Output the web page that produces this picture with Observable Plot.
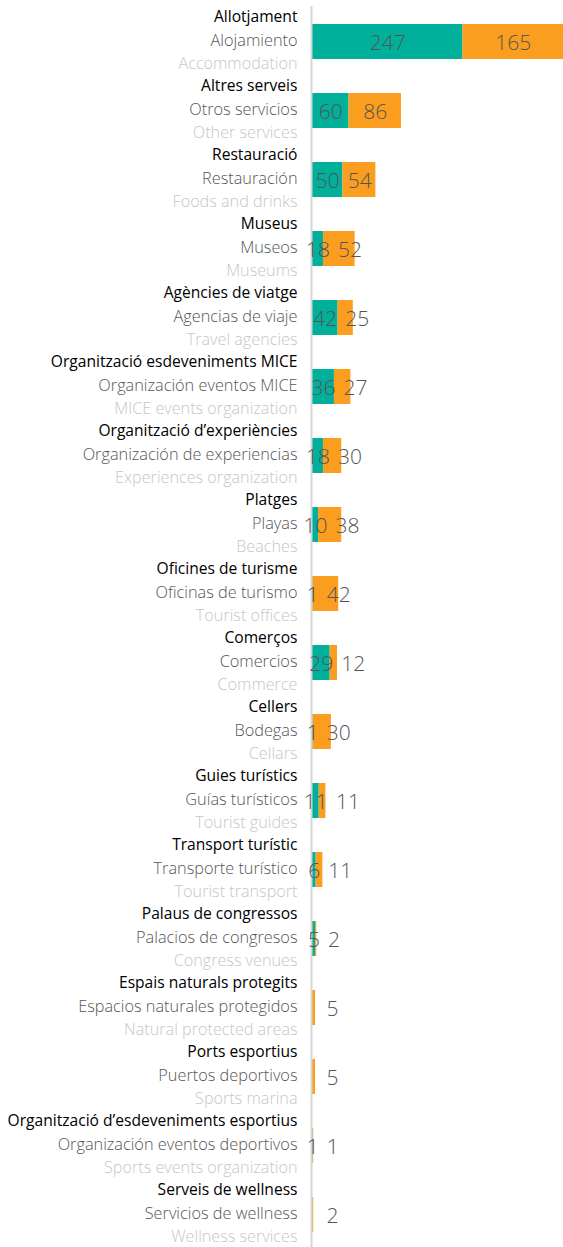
<!DOCTYPE html>
<html>
<head>
<meta charset="utf-8">
<script src="https://cdn.jsdelivr.net/npm/d3@7"></script>
<script src="https://cdn.jsdelivr.net/npm/@observablehq/plot@0.6"></script>
<style>
  html, body { margin: 0; padding: 0; background: #fff; }
  #chart svg { display: block; }
</style>
</head>
<body>
<div id="chart"></div>
<script>
const catalan = [
  "Allotjament", "Altres serveis", "Restauració", "Museus", "Agències de viatge",
  "Organització esdeveniments MICE", "Organització d’experiències", "Platges",
  "Oficines de turisme", "Comerços", "Cellers", "Guies turístics", "Transport turístic",
  "Palaus de congressos", "Espais naturals protegits", "Ports esportius",
  "Organització d’esdeveniments esportius", "Serveis de wellness"
];
const spanish = [
  "Alojamiento", "Otros servicios", "Restauración", "Museos", "Agencias de viaje",
  "Organización eventos MICE", "Organización de experiencias", "Playas",
  "Oficinas de turismo", "Comercios", "Bodegas", "Guías turísticos", "Transporte turístico",
  "Palacios de congresos", "Espacios naturales protegidos", "Puertos deportivos",
  "Organización eventos deportivos", "Servicios de wellness"
];
const english = [
  "Accommodation", "Other services", "Foods and drinks", "Museums", "Travel agencies",
  "MICE events organization", "Experiences organization", "Beaches",
  "Tourist offices", "Commerce", "Cellars", "Tourist guides", "Tourist transport",
  "Congress venues", "Natural protected areas", "Sports marina",
  "Sports events organization", "Wellness services"
];
const seriesNames = ["Series 1", "Series 2"];
const series1Values = [247, 60, 50, 18, 42, 36, 18, 10, 1, 29, 1, 11, 6, 5, 0, 0, 1, 0];
const series2Values = [165, 86, 54, 52, 25, 27, 30, 38, 42, 12, 30, 11, 11, 2, 5, 5, 1, 2];
const colors = ["#01b09b", "#fb9e1f"];

const W = 563, H = 1247, ML = 312;
const maxTotal = d3.max(series1Values.map((v, i) => v + series2Values[i]));

const long = [];
catalan.forEach((c, i) => {
  long.push({cat: c, series: seriesNames[0], value: series1Values[i]});
  long.push({cat: c, series: seriesNames[1], value: series2Values[i]});
});

// value label placement: centred in segment, second label pushed right if it collides
const xs = d3.scaleLinear([0, maxTotal], [ML, W]);
const labelSize = 21, charW = 0.572 * labelSize, gap = 8;
const labels = [];
catalan.forEach((c, i) => {
  const t = series1Values[i], o = series2Values[i];
  const tw = Math.max(1, String(t).length) * charW;
  const tc = xs(t / 2);
  const tRight = tc + tw / 2;
  if (t > 0) labels.push({cat: c, x: xs.invert(tc), text: String(t)});
  const ow = String(o).length * charW;
  let oc = xs(t + o / 2);
  if (oc - ow / 2 < tRight + gap) oc = tRight + gap + ow / 2;
  if (o > 0) labels.push({cat: c, x: xs.invert(oc), text: String(o)});
});

const font = "'Open Sans', 'Segoe UI', sans-serif";
const nCat = catalan.length, bandStep = 69.24, rangeStart = 5;

const chart = Plot.plot({
  width: W, height: H,
  marginLeft: ML, marginRight: 0, marginTop: 6, marginBottom: 0,
  style: {fontFamily: font, background: "#fff"},
  x: {domain: [0, maxTotal], axis: null},
  y: {domain: catalan, range: [rangeStart, rangeStart + nCat * bandStep], paddingInner: 0.495, paddingOuter: 0.2475, axis: null},
  color: {domain: seriesNames, range: colors},
  marks: [
    Plot.barX(long, {y: "cat", x: "value", fill: "series"}),
    Plot.ruleX([0], {stroke: "#d6d6d6", strokeWidth: 2, dx: -1}),
    Plot.text(catalan, {y: d => d, x: () => 0, text: d => d, textAnchor: "end", dx: -15, dy: -25.5,
      fill: "#000", fontSize: 15.6, fontWeight: 400, fontFamily: font}),
    Plot.text(catalan, {y: d => d, x: () => 0, text: (d, i) => spanish[i], textAnchor: "end", dx: -15, dy: -1.5,
      fill: "#555", fontSize: 16.3, fontWeight: 300, fontFamily: font}),
    Plot.text(catalan, {y: d => d, x: () => 0, text: (d, i) => english[i], textAnchor: "end", dx: -15, dy: 21.5,
      fill: "#c6c6c6", fontSize: 16.2, fontWeight: 300, fontFamily: font}),
    Plot.text(labels, {y: "cat", x: "x", text: "text", fill: "#555", fontSize: labelSize, fontWeight: 300, fontFamily: font, dy: 1})
  ]
});
document.getElementById("chart").appendChild(chart);
</script>
</body>
</html>
